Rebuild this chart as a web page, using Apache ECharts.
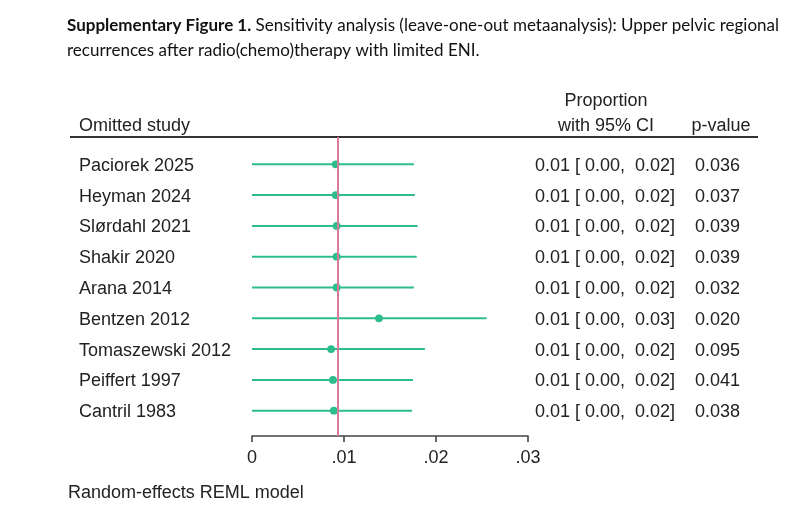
<!DOCTYPE html>
<html>
<head>
<meta charset="utf-8">
<script src="https://cdn.jsdelivr.net/npm/echarts@6/dist/echarts.min.js"></script>
<style>html,body{margin:0;padding:0;background:#fff}#c{width:800px;height:508px}</style>
</head>
<body>
<div id="c"></div>
<script>
const studies = ['Paciorek 2025','Heyman 2024','Slørdahl 2021','Shakir 2020','Arana 2014','Bentzen 2012','Tomaszewski 2012','Peiffert 1997','Cantril 1983'];
const est = [0.0091,0.0091,0.0092,0.0092,0.0092,0.0138,0.0086,0.0088,0.0089];
const lo  = [0,0,0,0,0,0,0,0,0];
const hi  = [0.0176,0.0177,0.0180,0.0179,0.0176,0.0255,0.0188,0.0175,0.0174];
const pvals = ['0.036','0.037','0.039','0.039','0.032','0.020','0.095','0.041','0.038'];
const overall = 0.0093;
const xTickLabels = ['0','.01','.02','.03'];

const FONT = '"Liberation Sans", Arial, Helvetica, sans-serif';
const GREEN = '#2dbd8c';
const PINK = '#d97b95';
const TXT = '#222';

const rows = studies.map((s, i) => [i + 1, lo[i], hi[i], est[i]]);

const chart = echarts.init(document.getElementById('c'), null, {renderer: 'canvas'});
chart.setOption({
  animation: false,
  backgroundColor: '#fff',
  title: {
    left: 62, top: 8,
    text: '{b|Supplementary Figure 1.} Sensitivity analysis (leave-one-out metaanalysis): Upper pelvic regional\nrecurrences after radio(chemo)therapy with limited ENI.',
    textStyle: {
      fontFamily: 'Lato, "Open Sans", sans-serif', fontSize: 17, fontWeight: 'normal', color: '#111', lineHeight: 25,
      rich: { b: { fontFamily: 'Lato, "Open Sans", sans-serif', fontSize: 17, fontWeight: 'bold', color: '#111', lineHeight: 25 } }
    }
  },
  grid: { left: 252, right: 272, top: 137, height: 299 },
  xAxis: {
    type: 'value', min: 0, max: 0.03, interval: 0.01,
    axisLine: { show: true, lineStyle: { color: '#444', width: 1.6 } },
    axisTick: { show: true, length: 6, lineStyle: { color: '#444', width: 1.6 } },
    splitLine: { show: false },
    axisLabel: { margin: 13, fontFamily: FONT, fontSize: 18, color: TXT,
      formatter: (v, idx) => xTickLabels[idx] }
  },
  yAxis: { type: 'value', inverse: true, min: 0.1136, max: 9.821, show: false },
  graphic: [
    { type: 'line', shape: { x1: 70, y1: 137, x2: 758, y2: 137 }, style: { stroke: '#333', lineWidth: 1.8 } },
    { type: 'text', x: 79, y: 126, style: { text: 'Omitted study', font: '18px ' + FONT, fill: TXT, verticalAlign: 'middle' } },
    { type: 'text', x: 606, y: 101, style: { text: 'Proportion', font: '18px ' + FONT, fill: TXT, align: 'center', verticalAlign: 'middle' } },
    { type: 'text', x: 606, y: 126, style: { text: 'with 95% CI', font: '18px ' + FONT, fill: TXT, align: 'center', verticalAlign: 'middle' } },
    { type: 'text', x: 721, y: 126, style: { text: 'p-value', font: '18px ' + FONT, fill: TXT, align: 'center', verticalAlign: 'middle' } },
    { type: 'text', x: 68, y: 493, style: { text: 'Random-effects REML model', font: '18px ' + FONT, fill: TXT, verticalAlign: 'middle' } }
  ],
  series: [
    {
      type: 'custom',
      data: rows,
      clip: false,
      markLine: {
        silent: true, symbol: 'none', label: { show: false }, precision: 6,
        lineStyle: { color: PINK, width: 2, type: 'solid' },
        data: [{ xAxis: overall }]
      },
      renderItem: function (params, api) {
        const r = api.value(0);
        const p1 = api.coord([api.value(1), r]);
        const p2 = api.coord([api.value(2), r]);
        const pe = api.coord([api.value(3), r]);
        const i = params.dataIndex;
        const ci = est[i].toFixed(2) + ' [ ' + lo[i].toFixed(2) + ',  ' + hi[i].toFixed(2) + ']';
        const ty = p1[1] + 1.5;
        return {
          type: 'group',
          children: [
            { type: 'line', shape: { x1: p1[0], y1: p1[1], x2: p2[0], y2: p2[1] }, style: { stroke: GREEN, lineWidth: 2 } },
            { type: 'circle', shape: { cx: pe[0], cy: pe[1], r: 3.9 }, style: { fill: GREEN } },
            { type: 'text', x: 79, y: ty, style: { text: studies[i], font: '18px ' + FONT, fill: TXT, verticalAlign: 'middle' } },
            { type: 'text', x: 535, y: ty, style: { text: ci, font: '18px ' + FONT, fill: TXT, verticalAlign: 'middle' } },
            { type: 'text', x: 695, y: ty, style: { text: pvals[i], font: '18px ' + FONT, fill: TXT, verticalAlign: 'middle' } }
          ]
        };
      }
    }
  ]
});
</script>
</body>
</html>
